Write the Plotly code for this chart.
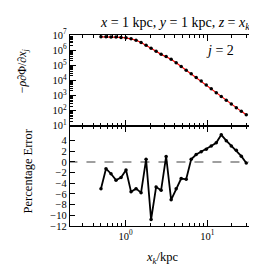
import plotly.graph_objects as go
from plotly.subplots import make_subplots

# data
x_kpc = [0.500, 0.576, 0.663, 0.764, 0.880, 1.013, 1.167, 1.344, 1.548, 1.783,
         2.053, 2.364, 2.723, 3.136, 3.612, 4.160, 4.791, 5.518, 6.355, 7.319,
         8.429, 9.708, 11.18, 12.88, 14.83, 17.08, 19.67, 22.66, 26.09, 30.00]
force_num = [7.59e6, 7.59e6, 7.41e6, 7.24e6, 6.92e6, 6.46e6, 5.75e6, 4.57e6, 3.16e6, 2.09e6,
             1.35e6, 8.51e5, 5.25e5, 3.72e5, 2.51e5, 1.45e5, 8.13e4, 4.68e4, 2.75e4, 1.55e4,
             8.91e3, 4.90e3, 2.75e3, 1.51e3, 851, 490, 269, 155, 89.1, 53.7]
pct_err = [-5.0, -1.25, -2.2, -3.4, -2.9, -1.5, -5.6, -5.0, -5.75, 0.5,
           -10.8, -4.7, -5.3, 1.05, -7.1, -5.0, -3.1, -3.25, 0.5, 1.4,
           1.9, 2.4, 3.0, 3.6, 5.1, 4.0, 3.0, 2.2, 1.1, -0.2]
top_ticks = [1e1, 1e2, 1e3, 1e4, 1e5, 1e6, 1e7]
top_ticklabels = ["10<sup>%d</sup>" % e for e in range(1, 8)]
x_ticks = [1, 10]
x_ticklabels = ["10<sup>0</sup>", "10<sup>1</sup>"]
err_ticks = [4, 2, 0, -2, -4, -6, -8, -10, -12]

SERIF = "Liberation Serif, DejaVu Serif, serif"

fig = make_subplots(rows=2, cols=1, shared_xaxes=True, vertical_spacing=0,
                    row_heights=[0.475, 0.525])

fig.add_trace(go.Scatter(x=x_kpc, y=force_num, mode="lines",
                         line=dict(color="red", width=1.2), showlegend=False), row=1, col=1)
fig.add_trace(go.Scatter(x=x_kpc, y=force_num, mode="markers",
                         marker=dict(color="black", size=3.5), showlegend=False), row=1, col=1)

fig.add_trace(go.Scatter(x=[0.2, 39], y=[0, 0], mode="lines",
                         line=dict(color="gray", width=1.3, dash="dash"), showlegend=False), row=2, col=1)
fig.add_trace(go.Scatter(x=x_kpc, y=pct_err, mode="lines+markers",
                         line=dict(color="black", width=1.8),
                         marker=dict(color="black", size=3.5), showlegend=False), row=2, col=1)

axis_common = dict(showline=True, linecolor="black", linewidth=1.3, mirror="allticks",
                   ticks="inside", tickcolor="black", tickwidth=1, showgrid=False,
                   zeroline=False, tickfont=dict(family=SERIF, size=10.5, color="black"))

xminor = dict(ticks="inside", ticklen=3, tickcolor="black", dtick="D1", showgrid=False)
for r in (1, 2):
    fig.update_xaxes(type="log", range=[-0.68, 1.584], tickvals=x_ticks, ticktext=x_ticklabels,
                     ticklen=6, minor=xminor, row=r, col=1, **axis_common)
fig.update_xaxes(showticklabels=False, row=1, col=1)

fig.update_yaxes(type="log", range=[1, 7], tickvals=top_ticks, ticktext=top_ticklabels,
                 ticklen=6,
                 minor=dict(ticks="inside", ticklen=3, tickcolor="black", dtick="D1", showgrid=False),
                 row=1, col=1, **axis_common)
fig.update_yaxes(range=[-12, 6.8], tickvals=err_ticks,
                 ticktext=[str(v).replace("-", "\u2212") for v in err_ticks],
                 ticklen=5, row=2, col=1, **axis_common)

ann = [
    dict(text="<i>x</i> = 1 kpc, <i>y</i> = 1 kpc, <i>z</i> = <i>x<sub>k</sub></i>",
         x=0.565, y=1.0, yshift=1, xanchor="center", yanchor="bottom",
         font=dict(family=SERIF, size=14, color="black")),
    dict(text="<i>j</i> = 2", x=0.81, y=0.921, xanchor="center", yanchor="middle",
         font=dict(family=SERIF, size=14, color="black")),
    dict(text="\u2212<i>\u03c1</i>\u2202\u03a6/\u2202<i>x<sub>j</sub></i>", x=-0.254, y=0.81,
         textangle=-90, xanchor="center", yanchor="middle",
         font=dict(family=SERIF, size=12, color="black")),
    dict(text="Percentage Error", x=-0.227, y=0.286, textangle=-90,
         xanchor="center", yanchor="middle",
         font=dict(family=SERIF, size=12.5, color="black")),
    dict(text="<i>x<sub>k</sub></i>/kpc", x=0.497, y=-0.17, xanchor="center", yanchor="middle",
         font=dict(family=SERIF, size=12.5, color="black")),
]
for a in ann:
    a.update(xref="paper", yref="paper", showarrow=False)

fig.update_layout(width=257, height=272, margin=dict(l=62, r=10, t=27, b=54),
                  paper_bgcolor="white", plot_bgcolor="white", annotations=ann)

fig.write_html("out.html")
